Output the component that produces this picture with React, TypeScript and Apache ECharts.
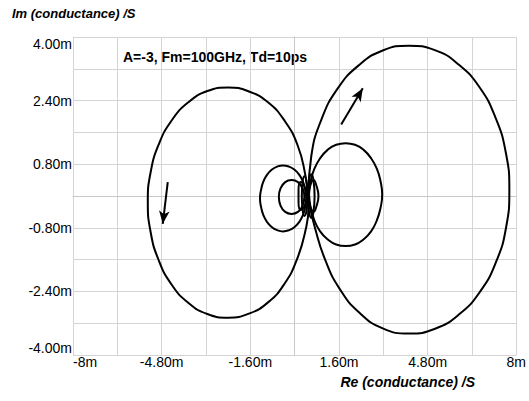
import React, { useEffect, useRef } from "react";
import * as echarts from "echarts";

// values in mS (m)
const bigLeftLoop: number[][] = [
  [0.48, 0.0], [0.38, 0.55], [0.11, 1.27], [-0.35, 1.88], [-0.95, 2.35], [-1.65, 2.63], [-2.4, 2.73],
  [-3.15, 2.64], [-3.85, 2.35], [-4.44, 1.9], [-4.91, 1.29], [-5.2, 0.59], [-5.3, -0.14], [-5.2, -0.9],
  [-4.91, -1.61], [-4.45, -2.22], [-3.85, -2.68], [-3.15, -2.97], [-2.4, -3.06], [-1.65, -2.96],
  [-0.95, -2.67], [-0.36, -2.2], [0.08, -1.6], [0.38, -0.9], [0.5, -0.28], [0.48, 0.0],
];
const bigRightLoop: number[][] = [
  [0.5, 0.05], [0.6, 1.0], [0.97, 1.93], [1.55, 2.7], [2.3, 3.28], [3.18, 3.66], [4.12, 3.78],
  [5.06, 3.67], [5.93, 3.3], [6.68, 2.73], [7.25, 1.97], [7.62, 1.1], [7.75, 0.15], [7.63, -0.8],
  [7.27, -1.66], [6.7, -2.4], [5.95, -2.97], [5.07, -3.34], [4.12, -3.46], [3.18, -3.33], [2.33, -2.93],
  [1.62, -2.33], [1.1, -1.6], [0.74, -0.82], [0.55, -0.25], [0.5, 0.05],
];
const midRightLoop: number[][] = [
  [0.52, 0.04], [0.58, 0.37], [0.71, 0.68], [0.92, 0.95], [1.19, 1.16], [1.5, 1.29], [1.84, 1.33],
  [2.18, 1.29], [2.49, 1.16], [2.76, 0.95], [2.97, 0.68], [3.1, 0.37], [3.16, 0.04], [3.1, -0.3],
  [2.97, -0.61], [2.76, -0.89], [2.49, -1.09], [2.18, -1.22], [1.84, -1.26], [1.5, -1.22],
  [1.19, -1.09], [0.92, -0.89], [0.71, -0.61], [0.58, -0.3], [0.52, 0.04],
];
const midLeftLoop: number[][] = [
  [0.42, -0.06], [0.38, 0.16], [0.3, 0.36], [0.17, 0.53], [0.0, 0.66], [-0.2, 0.74], [-0.42, 0.77],
  [-0.63, 0.74], [-0.83, 0.66], [-1.0, 0.53], [-1.13, 0.36], [-1.21, 0.16], [-1.25, -0.06],
  [-1.21, -0.28], [-1.13, -0.48], [-1.0, -0.65], [-0.83, -0.78], [-0.63, -0.86], [-0.42, -0.89],
  [-0.2, -0.86], [0.0, -0.78], [0.17, -0.65], [0.3, -0.48], [0.38, -0.28], [0.42, -0.06],
];
const smallLeftLoop: number[][] = [
  [0.35, -0.02], [0.29, 0.19], [0.12, 0.35], [-0.11, 0.4], [-0.34, 0.35], [-0.51, 0.19], [-0.57, -0.02],
  [-0.51, -0.24], [-0.34, -0.4], [-0.11, -0.45], [0.12, -0.4], [0.29, -0.24], [0.35, -0.02],
];
const tinyRightLoop: number[][] = [
  [0.5, 0.05], [0.58, 0.3], [0.68, 0.4], [0.79, 0.25], [0.86, 0], [0.79, -0.25], [0.68, -0.4],
  [0.58, -0.3], [0.5, -0.05], [0.5, 0.05],
];
const tinyLeftLoop: number[][] = [
  [0.43, 0.05], [0.32, 0.3], [0.22, 0.35], [0.14, 0.15], [0.14, -0.15], [0.22, -0.35], [0.32, -0.3],
  [0.43, -0.05], [0.43, 0.05],
];
const tallRightLoop: number[][] = [
  [0.48, 0.05], [0.52, 0.4], [0.6, 0.55], [0.68, 0.4], [0.72, 0.0], [0.68, -0.4], [0.6, -0.55],
  [0.52, -0.4], [0.48, -0.05], [0.48, 0.05],
];
const tallLeftLoop: number[][] = [
  [0.46, 0.05], [0.42, 0.4], [0.35, 0.5], [0.28, 0.3], [0.26, 0.0], [0.28, -0.3], [0.35, -0.5],
  [0.42, -0.4], [0.46, -0.05], [0.46, 0.05],
];
const arrowLeft: number[][] = [[-4.58, 0.35], [-4.76, -0.7]];
const arrowRight: number[][] = [[1.68, 1.8], [2.46, 2.71]];

const annotation = "A=-3, Fm=100GHz, Td=10ps";
const yTitle = "Im (conductance) /S";
const xTitle = "Re (conductance) /S";

const FONT = "'Liberation Sans', Arial, sans-serif";

function fmt(v: number, min: number, step: number): string {
  const idx = Math.round((v - min) / step);
  if (idx % 2 !== 0) return "";
  if (Math.abs(Math.abs(v) - 8) < 1e-9) return v < 0 ? "-8m" : "8m";
  return v.toFixed(2) + "m";
}

export default function App() {
  const ref = useRef<HTMLDivElement>(null);
  useEffect(() => {
    if (!ref.current) return;
    const chart = echarts.init(ref.current, undefined, { renderer: "svg" });
    const loops = [
      bigLeftLoop, bigRightLoop, midRightLoop, midLeftLoop, smallLeftLoop,
      tinyRightLoop, tinyLeftLoop, tallRightLoop, tallLeftLoop,
    ];
    const series: any[] = loops.map((d) => ({
      type: "line",
      data: d,
      smooth: true,
      showSymbol: false,
      symbol: "none",
      lineStyle: { color: "#000", width: 2 },
      silent: true,
    }));
    series.push({
      type: "line",
      data: [],
      markLine: {
        silent: true,
        symbol: ["none", "arrow"],
        symbolSize: [8, 13],
        label: { show: false },
        lineStyle: { color: "#000", width: 2, type: "solid" },
        data: [
          [{ coord: arrowLeft[0] }, { coord: arrowLeft[1] }],
          [{ coord: arrowRight[0] }, { coord: arrowRight[1] }],
        ],
      },
    });
    chart.setOption({
      animation: false,
      backgroundColor: "#fff",
      grid: { left: 73, top: 37, right: 12, bottom: 46, containLabel: false },
      xAxis: {
        type: "value",
        min: -8,
        max: 8,
        interval: 1.6,
        axisLine: { show: true, lineStyle: { color: "#c8c8c8", width: 1 } },
        axisTick: { show: false },
        splitLine: { show: true, lineStyle: { color: "#d4d4d4", width: 1 } },
        axisLabel: {
          color: "#000",
          fontSize: 14,
          fontFamily: FONT,
          margin: 0,
          alignMinLabel: "left",
          formatter: (v: number) => fmt(v, -8, 1.6),
        },
      },
      yAxis: {
        type: "value",
        min: -4,
        max: 4,
        interval: 0.8,
        axisLine: { show: true, lineStyle: { color: "#c8c8c8", width: 1 } },
        axisTick: { show: false },
        splitLine: { show: true, lineStyle: { color: "#d4d4d4", width: 1 } },
        axisLabel: {
          color: "#000",
          fontSize: 14,
          fontFamily: FONT,
          margin: 1,
          verticalAlignMinLabel: "bottom",
          verticalAlignMaxLabel: "top",
          formatter: (v: number) => fmt(v, -4, 0.8),
        },
      },
      graphic: [
        {
          type: "text",
          left: 12,
          top: 7,
          style: { text: yTitle, font: `italic bold 13px ${FONT}`, fill: "#000" },
        },
        {
          type: "text",
          right: 54,
          top: 375,
          style: { text: xTitle, font: `italic bold 14px ${FONT}`, fill: "#000" },
        },
        {
          type: "text",
          left: 123,
          top: 50,
          style: { text: annotation, font: `bold 14px ${FONT}`, fill: "#000" },
        },
      ],
      series,
    });
    return () => chart.dispose();
  }, []);
  return <div ref={ref} style={{ width: 529, height: 401, position: "absolute", left: 0, top: 0 }} />;
}
